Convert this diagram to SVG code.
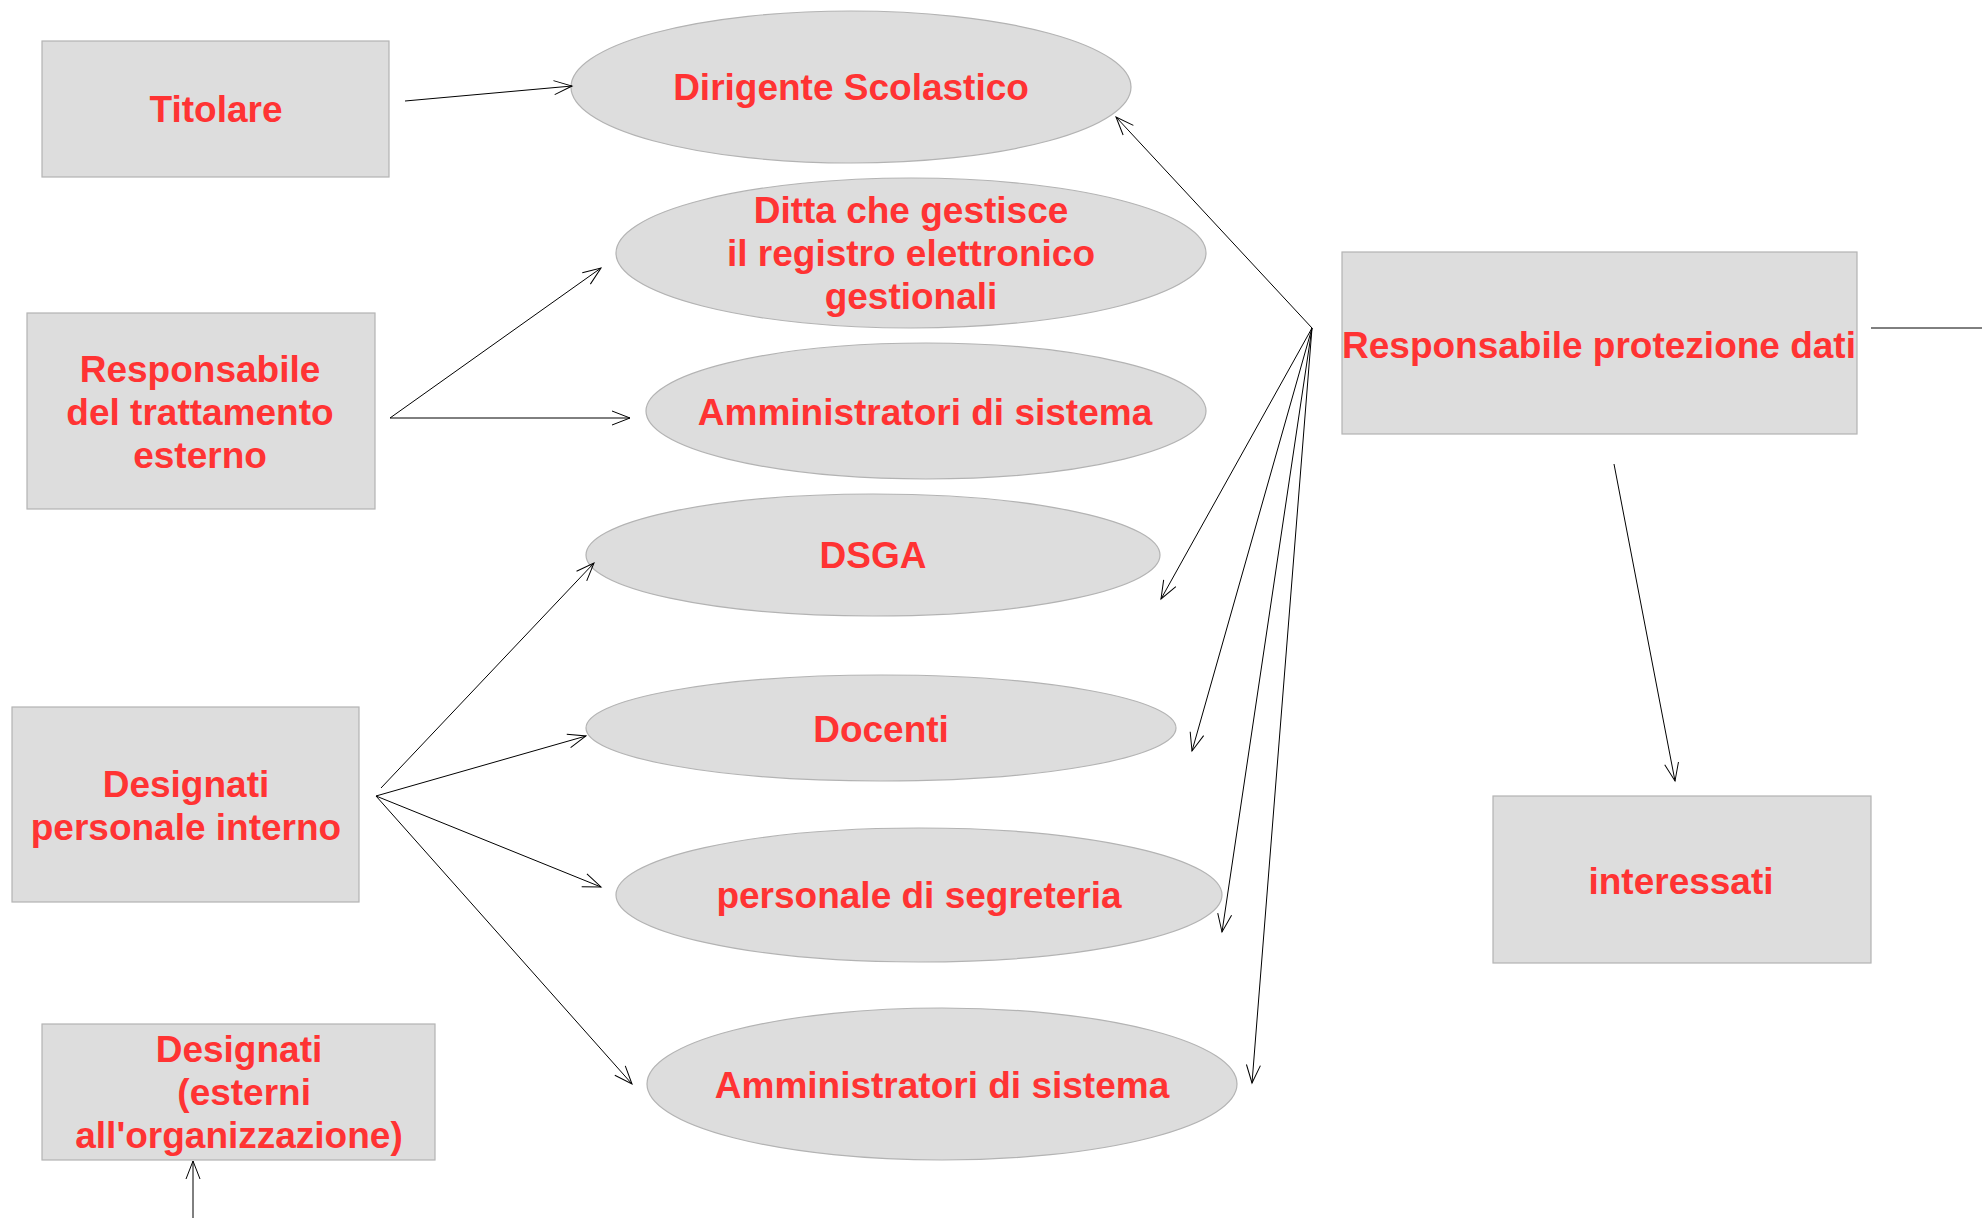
<svg xmlns="http://www.w3.org/2000/svg" width="1982" height="1218" viewBox="0 0 1982 1218">
<style>
.n{fill:#dddddd;stroke:#b3b3b3;stroke-width:1.2}
.t{font-family:"Liberation Sans",Arial,sans-serif;font-weight:bold;font-size:37px;fill:#ff3333;text-anchor:middle}
.c{stroke:#000;stroke-width:1;fill:none}
</style>
<defs>
<marker id="a" markerUnits="userSpaceOnUse" markerWidth="24" markerHeight="20" viewBox="-20 -10 24 20" refX="0" refY="0" orient="auto">
<path d="M-18,-7 L0,0 L-18,7" fill="none" stroke="#000" stroke-width="1"/>
</marker>
</defs>
<rect width="1982" height="1218" fill="#ffffff"/>
<g id="titolare"><rect class="n" x="42" y="41" width="347" height="136"/><text class="t" x="216" y="122">Titolare</text></g>
<g id="dirigente"><ellipse class="n" cx="851" cy="87" rx="280" ry="76"/><text class="t" x="851" y="100">Dirigente Scolastico</text></g>
<g id="ditta"><ellipse class="n" cx="911" cy="253" rx="295" ry="75"/><text class="t" x="911" y="223">Ditta che gestisce</text><text class="t" x="911" y="266">il registro elettronico</text><text class="t" x="911" y="309">gestionali</text></g>
<g id="resp-esterno"><rect class="n" x="27" y="313" width="348" height="196"/><text class="t" x="200" y="382">Responsabile</text><text class="t" x="200" y="425">del trattamento</text><text class="t" x="200" y="468">esterno</text></g>
<g id="amm1"><ellipse class="n" cx="926" cy="411" rx="280" ry="68"/><text class="t" x="925" y="425">Amministratori di sistema</text></g>
<g id="dsga"><ellipse class="n" cx="873" cy="555" rx="287" ry="61"/><text class="t" x="873" y="568">DSGA</text></g>
<g id="docenti"><ellipse class="n" cx="881" cy="728" rx="295" ry="53"/><text class="t" x="881" y="742">Docenti</text></g>
<g id="segreteria"><ellipse class="n" cx="919" cy="895" rx="303" ry="67"/><text class="t" x="919" y="908">personale di segreteria</text></g>
<g id="amm2"><ellipse class="n" cx="942" cy="1084" rx="295" ry="76"/><text class="t" x="942" y="1098">Amministratori di sistema</text></g>
<g id="designati-interno"><rect class="n" x="12" y="707" width="347" height="195"/><text class="t" x="186" y="797">Designati</text><text class="t" x="186" y="840">personale interno</text></g>
<g id="designati-esterni"><rect class="n" x="42" y="1024" width="393" height="136"/><text class="t" x="239" y="1062">Designati</text><text class="t" x="239" y="1105" xml:space="preserve"> (esterni</text><text class="t" x="239" y="1148">all'organizzazione)</text></g>
<g id="rpd"><rect class="n" x="1342" y="252" width="515" height="182"/><text class="t" x="1599" y="358">Responsabile protezione dati</text></g>
<g id="interessati"><rect class="n" x="1493" y="796" width="378" height="167"/><text class="t" x="1681" y="894">interessati</text></g>
<g id="connectors">
<line class="c" x1="405" y1="101" x2="572" y2="86" marker-end="url(#a)"/>
<line class="c" x1="390" y1="418" x2="601" y2="268" marker-end="url(#a)"/>
<line class="c" x1="390" y1="418" x2="630" y2="418" marker-end="url(#a)"/>
<line class="c" x1="381" y1="788" x2="594" y2="563" marker-end="url(#a)"/>
<line class="c" x1="376" y1="796" x2="586" y2="736" marker-end="url(#a)"/>
<line class="c" x1="376" y1="796" x2="601" y2="887" marker-end="url(#a)"/>
<line class="c" x1="376" y1="796" x2="632" y2="1084" marker-end="url(#a)"/>
<line class="c" x1="193" y1="1218" x2="193" y2="1161" marker-end="url(#a)"/>
<line class="c" x1="1312" y1="328" x2="1116" y2="117" marker-end="url(#a)"/>
<line class="c" x1="1312" y1="328" x2="1161" y2="599" marker-end="url(#a)"/>
<line class="c" x1="1312" y1="328" x2="1192" y2="751" marker-end="url(#a)"/>
<line class="c" x1="1312" y1="328" x2="1222" y2="932" marker-end="url(#a)"/>
<line class="c" x1="1312" y1="328" x2="1252" y2="1083" marker-end="url(#a)"/>
<line class="c" x1="1871" y1="328" x2="1982" y2="328"/>
<line class="c" x1="1614" y1="464" x2="1675" y2="781" marker-end="url(#a)"/>
</g>
</svg>
